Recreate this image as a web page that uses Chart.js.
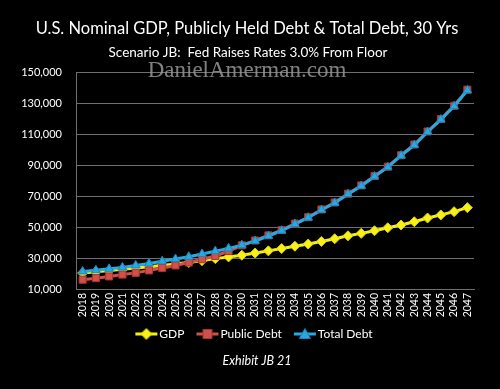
<!DOCTYPE html>
<html>
<head>
<meta charset="utf-8">
<script src="https://cdn.jsdelivr.net/npm/chart.js@4.4.1/dist/chart.umd.min.js"></script>
<style>
  html, body { margin: 0; padding: 0; background: #000; }
  #wrap { position: relative; width: 500px; height: 389px; }
</style>
</head>
<body>
<div id="wrap"><canvas id="debt-chart" width="500" height="389"></canvas></div>
<script>
// Years on the x axis
const years = [
  "2018", "2019", "2020", "2021", "2022", "2023", "2024", "2025", "2026", "2027",
  "2028", "2029", "2030", "2031", "2032", "2033", "2034", "2035", "2036", "2037",
  "2038", "2039", "2040", "2041", "2042", "2043", "2044", "2045", "2046", "2047"
];

// Values in billions of dollars
const gdp = [
  20300, 21100, 21900, 22700, 23500, 24300, 25200, 26100, 27100, 28300,
  29600, 30700, 31800, 33200, 34600, 36100, 37600, 39000, 40700, 42400,
  44300, 45900, 47600, 49500, 51300, 53400, 55800, 57800, 59900, 62500
];
const publicDebt = [
  16000, 17000, 18100, 19300, 20400, 22000, 23600, 25200, 27100, 29200,
  31300, 34500, 38200, 41300, 44600, 48000, 52200, 56300, 61300, 65800,
  71500, 76800, 82900, 88900, 96300, 103200, 111600, 119600, 128200, 138600
];
const totalDebt = [
  21300, 22100, 23000, 23900, 25200, 26500, 27900, 29300, 30800, 32600,
  34400, 36200, 38300, 40900, 44200, 47600, 51900, 56000, 61000, 65500,
  71200, 76500, 82600, 88600, 96000, 102900, 111300, 119300, 127900, 138100
];

const seriesNames = ["GDP", "Public Debt", "Total Debt"];
const yTicks = { min: 10000, max: 150000, step: 20000 };

const fontFamily = "Lato, 'Open Sans', sans-serif";
const gridColor = "#6f6f6f";

// Legend symbol: line segment plus marker, drawn into the right part of a
// wider canvas so it sits close to its label text
function legendSymbol(color, border, shape) {
  const c = document.createElement("canvas");
  c.width = 36;
  c.height = 12;
  const g = c.getContext("2d");
  const x0 = 13, cx = 24;
  g.strokeStyle = color;
  g.lineWidth = 3;
  g.beginPath();
  g.moveTo(x0, 6);
  g.lineTo(x0 + 22, 6);
  g.stroke();
  g.fillStyle = color;
  g.strokeStyle = border;
  g.lineWidth = 1;
  g.beginPath();
  if (shape === "rectRot") {
    g.moveTo(cx, 0.5); g.lineTo(cx + 5.5, 6); g.lineTo(cx, 11.5); g.lineTo(cx - 5.5, 6);
  } else if (shape === "rect") {
    g.rect(cx - 4.5, 1.5, 9, 9);
  } else {
    g.moveTo(cx, 0.5); g.lineTo(cx + 5.5, 10.5); g.lineTo(cx - 5.5, 10.5);
  }
  g.closePath();
  g.fill();
  g.stroke();
  return c;
}

// Titles, watermark and exhibit label; also nudges the legend into place
const textPlugin = {
  id: "exhibitText",
  afterLayout(chart) {
    const lg = chart.legend;
    lg.left += 13;
    lg.right += 13;
    lg.top += 3;
    lg.bottom += 3;
  },
  beforeDatasetsDraw(chart) {
    const ctx = chart.ctx;
    ctx.save();
    ctx.textAlign = "center";
    ctx.textBaseline = "middle";
    ctx.fillStyle = "rgba(150,150,150,0.85)";
    ctx.font = "23px 'Liberation Serif', serif";
    ctx.fillText("DanielAmerman.com", 247, 71);
    ctx.restore();
  },
  afterDraw(chart) {
    const ctx = chart.ctx;
    ctx.save();
    ctx.textAlign = "center";
    ctx.textBaseline = "middle";
    ctx.fillStyle = "#ffffff";
    ctx.font = "16.5px " + fontFamily;
    ctx.fillText("U.S. Nominal GDP, Publicly Held Debt & Total Debt, 30 Yrs", 247, 29);
    ctx.font = "13.5px " + fontFamily;
    ctx.fillText("Scenario JB:  Fed Raises Rates 3.0% From Floor", 248, 53);
    ctx.font = "italic 12.5px " + fontFamily;
    ctx.fillText("Exhibit JB 21", 257, 361);
    ctx.restore();
  }
};

const symbols = [
  legendSymbol("#f7f01a", "#d8d000", "rectRot"),
  legendSymbol("#d0504c", "#a83430", "rect"),
  legendSymbol("#2aa8df", "#1a86ba", "triangle")
];

new Chart(document.getElementById("debt-chart"), {
  type: "line",
  data: {
    labels: years,
    datasets: [
      {
        label: seriesNames[0],
        data: gdp,
        borderColor: "#f7f01a",
        backgroundColor: "#f7f01a",
        pointBorderColor: "#d8d000",
        borderWidth: 3,
        pointStyle: "rectRot",
        pointRadius: 5,
        pointBorderWidth: 1,
        order: 2
      },
      {
        label: seriesNames[1],
        data: publicDebt,
        borderColor: "#d0504c",
        backgroundColor: "#d0504c",
        pointBorderColor: "#a83430",
        borderWidth: 3,
        pointStyle: "rect",
        pointRadius: 5,
        pointBorderWidth: 1,
        order: 1
      },
      {
        label: seriesNames[2],
        data: totalDebt,
        borderColor: "#2aa8df",
        backgroundColor: "#2aa8df",
        pointBorderColor: "#1a86ba",
        borderWidth: 3,
        pointStyle: "triangle",
        pointRadius: 5,
        pointBorderWidth: 1,
        order: 0
      }
    ]
  },
  options: {
    responsive: false,
    animation: false,
    layout: { padding: { top: 72, right: 26, bottom: 42, left: 0 } },
    plugins: {
      title: { display: false },
      tooltip: { enabled: false },
      legend: {
        position: "bottom",
        labels: {
          color: "#ffffff",
          font: { family: fontFamily, size: 12 },
          usePointStyle: true,
          pointStyleWidth: 26,
          boxHeight: 12,
          padding: 4,
          generateLabels: (chart) => chart.data.datasets.map((ds, i) => ({
            text: ds.label,
            fontColor: "#ffffff",
            pointStyle: symbols[i],
            datasetIndex: i,
            lineWidth: 0,
            strokeStyle: "transparent",
            fillStyle: "transparent"
          }))
        }
      }
    },
    elements: { line: { tension: 0 } },
    scales: {
      x: {
        offset: true,
        grid: { display: false, drawTicks: false },
        border: { color: gridColor, width: 1 },
        ticks: {
          color: "#ffffff",
          font: { family: fontFamily, size: 10.5 },
          minRotation: 90,
          maxRotation: 90,
          autoSkip: false,
          padding: 4
        },
        afterFit: (scale) => { scale.height = 32; }
      },
      y: {
        min: yTicks.min,
        max: yTicks.max,
        grid: { color: gridColor, lineWidth: 1, drawTicks: false },
        border: { color: gridColor, width: 1 },
        ticks: {
          stepSize: yTicks.step,
          color: "#ffffff",
          font: { family: fontFamily, size: 11 },
          padding: 14,
          callback: (value) => value.toLocaleString("en-US")
        },
        afterFit: (scale) => { scale.width = 76; }
      }
    }
  },
  plugins: [textPlugin]
});
</script>
</body>
</html>
